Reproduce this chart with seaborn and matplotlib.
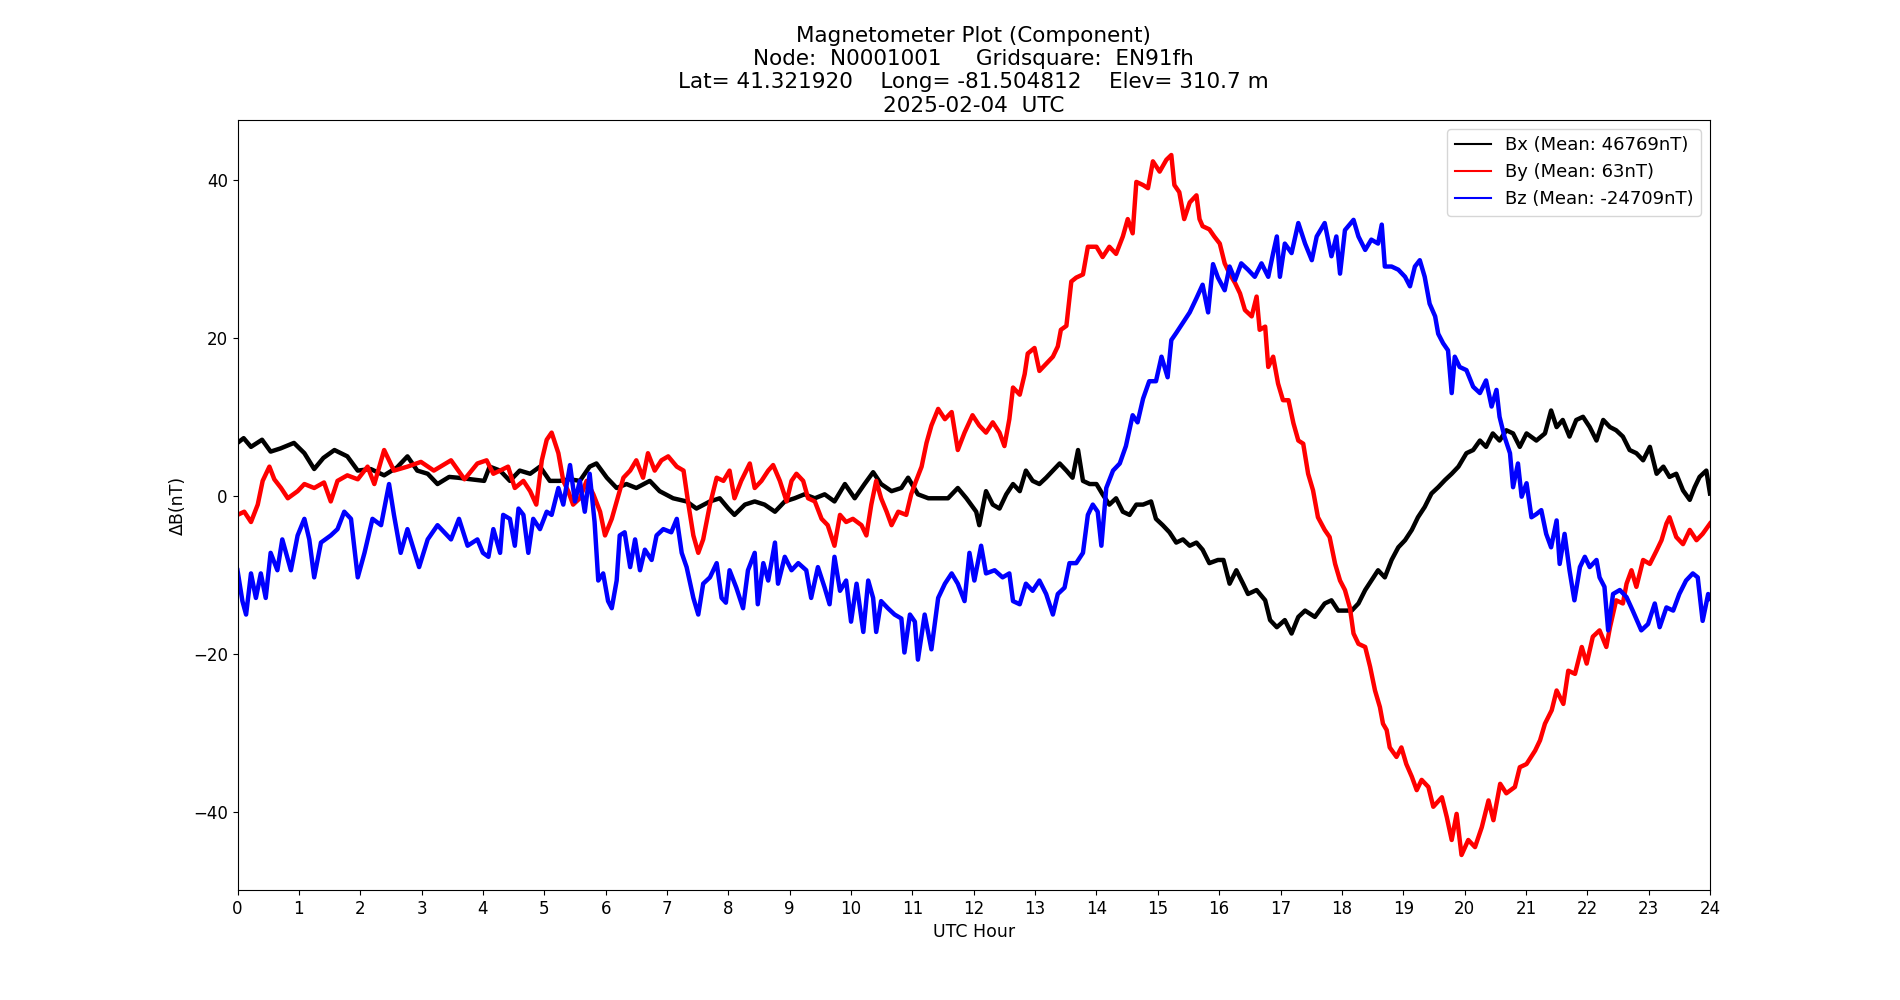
#!/usr/bin/env python3
"""Magnetometer component plot (Bx, By, Bz deviations over one UTC day)."""

import matplotlib
matplotlib.use('Agg')
import matplotlib.pyplot as plt
import seaborn as sns

# --- values (hour, nT deviation from mean) ---
bx_hours = [0.00, 0.10, 0.22, 0.40, 0.54, 0.70, 0.92, 1.09, 1.25, 1.40, 1.58, 1.79, 1.96, 2.17,
            2.39, 2.60, 2.77, 2.93, 3.10, 3.26, 3.45, 3.59, 3.80, 4.02, 4.11, 4.28, 4.44, 4.60,
            4.77, 4.93, 5.09, 5.25, 5.42, 5.58, 5.74, 5.85, 6.02, 6.18, 6.34, 6.50, 6.72, 6.88,
            7.10, 7.32, 7.48, 7.70, 7.86, 8.00, 8.10, 8.27, 8.43, 8.59, 8.76, 8.92, 9.08, 9.24,
            9.41, 9.57, 9.73, 9.90, 10.06, 10.22, 10.36, 10.49, 10.66, 10.82, 10.93, 11.09, 11.26,
            11.42, 11.58, 11.74, 11.88, 12.04, 12.09, 12.20, 12.31, 12.42, 12.53, 12.64, 12.75,
            12.85, 12.96, 13.07, 13.18, 13.29, 13.40, 13.51, 13.61, 13.70, 13.78, 13.89, 14.00,
            14.10, 14.21, 14.32, 14.43, 14.54, 14.65, 14.76, 14.89, 14.97, 15.08, 15.19, 15.30,
            15.41, 15.52, 15.63, 15.73, 15.84, 15.98, 16.07, 16.17, 16.28, 16.39, 16.47, 16.61,
            16.75, 16.83, 16.94, 17.07, 17.18, 17.29, 17.40, 17.56, 17.72, 17.83, 17.94, 18.05,
            18.16, 18.27, 18.38, 18.48, 18.59, 18.70, 18.81, 18.92, 19.03, 19.14, 19.24, 19.35,
            19.46, 19.57, 19.68, 19.79, 19.90, 20.03, 20.14, 20.25, 20.35, 20.46, 20.57, 20.68,
            20.79, 20.90, 21.01, 21.17, 21.31, 21.41, 21.50, 21.60, 21.71, 21.82, 21.93, 22.04,
            22.15, 22.26, 22.37, 22.47, 22.58, 22.69, 22.80, 22.91, 23.02, 23.13, 23.24, 23.34,
            23.45, 23.56, 23.67, 23.75, 23.83, 23.94, 24.00]
bx_values = [6.7, 7.3, 6.2, 7.1, 5.6, 6.0, 6.7, 5.4, 3.4, 4.8, 5.8, 5.0, 3.2, 3.4,
             2.6, 3.6, 5.0, 3.2, 2.8, 1.5, 2.4, 2.3, 2.1, 1.9, 3.7, 3.2, 1.9, 3.2,
             2.8, 3.7, 1.9, 1.9, 2.1, 1.9, 3.7, 4.1, 2.3, 1.0, 1.5, 1.0, 1.9, 0.6,
             -0.3, -0.7, -1.6, -0.7, -0.3, -1.6, -2.4, -1.1, -0.7, -1.1, -2.0, -0.7, -0.3, 0.2,
             -0.3, 0.2, -0.7, 1.5, -0.3, 1.5, 3.0, 1.5, 0.6, 1.0, 2.3, 0.2, -0.3,
             -0.3, -0.3, 1.0, -0.3, -2.0, -3.7, 0.6, -1.1, -1.6, 0.2, 1.5, 0.6,
             3.2, 1.9, 1.5, 2.3, 3.2, 4.1, 3.2, 2.3, 5.8, 1.9, 1.5, 1.5,
             0.2, -1.1, -0.3, -2.0, -2.4, -1.1, -1.1, -0.7, -2.9, -3.7, -4.6, -5.9,
             -5.5, -6.3, -5.9, -6.8, -8.5, -8.1, -8.1, -11.1, -9.4, -11.1, -12.4, -11.9,
             -13.2, -15.7, -16.6, -15.7, -17.4, -15.3, -14.5, -15.3, -13.6, -13.2, -14.5, -14.5,
             -14.5, -13.6, -11.9, -10.7, -9.4, -10.3, -8.1, -6.5, -5.6, -4.3, -2.7, -1.4,
             0.3, 1.1, 2.0, 2.8, 3.7, 5.4, 5.8, 7.0, 6.2, 7.9, 7.0, 8.3,
             7.9, 6.2, 7.9, 7.0, 7.9, 10.8, 8.7, 9.6, 7.5, 9.6, 10.0, 8.7,
             7.0, 9.6, 8.7, 8.3, 7.5, 5.8, 5.4, 4.5, 6.2, 2.8, 3.7, 2.4,
             2.8, 0.7, -0.5, 1.1, 2.4, 3.2, 0.3]

by_hours = [0.00, 0.11, 0.22, 0.33, 0.41, 0.52, 0.60, 0.71, 0.82, 0.98, 1.09, 1.25, 1.41, 1.52,
            1.63, 1.79, 1.96, 2.12, 2.23, 2.39, 2.55, 2.77, 2.99, 3.20, 3.48, 3.70, 3.91, 4.06,
            4.17, 4.28, 4.41, 4.52, 4.66, 4.77, 4.87, 4.96, 5.04, 5.12, 5.23, 5.31, 5.39, 5.47,
            5.58, 5.69, 5.80, 5.91, 5.99, 6.10, 6.18, 6.29, 6.40, 6.50, 6.61, 6.69, 6.80, 6.91,
            7.02, 7.16, 7.27, 7.35, 7.43, 7.51, 7.59, 7.70, 7.81, 7.92, 8.02, 8.10, 8.21, 8.35,
            8.43, 8.54, 8.65, 8.73, 8.84, 8.95, 9.03, 9.11, 9.22, 9.30, 9.41, 9.52, 9.62, 9.73,
            9.82, 9.92, 10.03, 10.17, 10.25, 10.33, 10.41, 10.49, 10.58, 10.66, 10.77, 10.90,
            10.98, 11.06, 11.15, 11.23, 11.31, 11.42, 11.53, 11.64, 11.74, 11.85, 11.98, 12.09,
            12.20, 12.31, 12.42, 12.50, 12.58, 12.64, 12.75, 12.83, 12.88, 12.99, 13.07, 13.18,
            13.29, 13.37, 13.42, 13.51, 13.59, 13.67, 13.78, 13.86, 14.00, 14.10, 14.21, 14.32,
            14.43, 14.51, 14.59, 14.65, 14.76, 14.84, 14.92, 15.03, 15.14, 15.22, 15.27, 15.35,
            15.43, 15.52, 15.63, 15.68, 15.73, 15.84, 15.92, 16.01, 16.09, 16.17, 16.26, 16.34,
            16.42, 16.53, 16.61, 16.66, 16.75, 16.80, 16.88, 16.96, 17.04, 17.13, 17.21, 17.29,
            17.37, 17.45, 17.53, 17.61, 17.72, 17.80, 17.89, 17.97, 18.05, 18.13, 18.19, 18.27,
            18.38, 18.46, 18.54, 18.62, 18.67, 18.73, 18.78, 18.89, 18.97, 19.05, 19.14, 19.22,
            19.30, 19.41, 19.49, 19.63, 19.71, 19.79, 19.87, 19.95, 20.06, 20.17, 20.28, 20.39,
            20.47, 20.58, 20.68, 20.82, 20.90, 21.01, 21.15, 21.23, 21.31, 21.42, 21.50, 21.61,
            21.69, 21.80, 21.91, 21.99, 22.09, 22.20, 22.31, 22.37, 22.47, 22.58, 22.64, 22.72,
            22.80, 22.91, 23.02, 23.13, 23.21, 23.29, 23.34, 23.45, 23.56, 23.67, 23.78, 23.88,
            24.00]
by_values = [-2.4, -2.0, -3.3, -1.1, 1.9, 3.7, 2.1, 1.0, -0.3, 0.6, 1.5, 1.0, 1.7, -0.7,
             1.9, 2.6, 2.1, 3.7, 1.5, 5.8, 3.2, 3.7, 4.3, 3.2, 4.5, 2.1, 4.1, 4.5,
             2.8, 3.2, 3.7, 1.0, 1.9, 0.6, -1.1, 4.5, 7.1, 8.0, 5.4, 1.9, 0.6, -1.1,
             -0.3, 1.9, 0.2, -2.0, -5.0, -2.9, -0.7, 2.3, 3.2, 4.5, 2.3, 5.4, 3.2, 4.5,
             5.0, 3.7, 3.2, -1.1, -5.0, -7.2, -5.5, -1.1, 2.3, 1.9, 3.2, -0.3, 1.9, 4.1,
             1.0, 1.9, 3.2, 3.9, 1.9, -0.7, 1.9, 2.8, 1.9, -0.3, -0.7, -2.9, -3.7, -6.3,
             -2.4, -3.3, -2.9, -3.7, -5.0, -1.1, 1.9, -0.3, -2.0, -3.7, -2.0, -2.4,
             0.2, 1.9, 3.7, 6.7, 8.9, 11.0, 9.7, 10.6, 5.8, 8.0, 10.2, 8.9,
             8.0, 9.3, 8.0, 6.3, 9.7, 13.7, 12.8, 15.4, 18.0, 18.7, 15.8, 16.7,
             17.6, 18.9, 21.0, 21.5, 27.1, 27.6, 28.0, 31.5, 31.5, 30.2, 31.5, 30.6,
             32.8, 35.0, 33.2, 39.7, 39.3, 38.9, 42.3, 41.0, 42.5, 43.1, 39.3, 38.4,
             35.0, 37.1, 38.0, 35.0, 34.1, 33.7, 32.8, 31.9, 29.4, 28.1, 26.9, 25.6,
             23.5, 22.7, 25.2, 21.0, 21.4, 16.3, 17.6, 14.2, 12.1, 12.1, 9.2, 7.0,
             6.6, 2.8, 0.7, -2.7, -4.3, -5.2, -8.6, -10.7, -11.9, -14.1, -17.4, -18.7,
             -19.1, -21.6, -24.6, -26.7, -28.8, -29.6, -31.8, -33.0, -31.8, -33.9, -35.5, -37.2,
             -35.9, -36.8, -39.3, -38.1, -40.6, -43.5, -40.2, -45.4, -43.5, -44.4, -41.9, -38.5,
             -41.0, -36.4, -37.6, -36.8, -34.3, -33.9, -32.2, -30.9, -28.8, -27.1, -24.6, -26.3,
             -22.1, -22.5, -19.1, -21.2, -17.8, -17.0, -19.1, -16.6, -13.2, -13.6, -11.1, -9.4,
             -11.5, -8.1, -8.6, -6.9, -5.6, -3.5, -2.7, -5.2, -6.1, -4.3, -5.6, -4.8,
             -3.5]

bz_hours = [0.00, 0.08, 0.14, 0.22, 0.30, 0.38, 0.46, 0.54, 0.65, 0.73, 0.87, 0.98, 1.09, 1.17,
            1.25, 1.36, 1.52, 1.63, 1.74, 1.85, 1.96, 2.07, 2.20, 2.34, 2.47, 2.55, 2.66, 2.77,
            2.96, 3.10, 3.26, 3.48, 3.61, 3.75, 3.91, 4.00, 4.09, 4.17, 4.28, 4.33, 4.44, 4.52,
            4.58, 4.66, 4.74, 4.82, 4.93, 5.04, 5.12, 5.23, 5.31, 5.42, 5.50, 5.58, 5.66, 5.74,
            5.82, 5.88, 5.96, 6.04, 6.10, 6.18, 6.23, 6.31, 6.40, 6.48, 6.56, 6.64, 6.75, 6.83,
            6.94, 7.07, 7.16, 7.24, 7.32, 7.43, 7.51, 7.59, 7.70, 7.81, 7.89, 7.96, 8.02, 8.13,
            8.24, 8.32, 8.43, 8.48, 8.57, 8.65, 8.76, 8.81, 8.92, 9.03, 9.14, 9.27, 9.35, 9.46,
            9.57, 9.65, 9.73, 9.82, 9.92, 10.00, 10.09, 10.20, 10.28, 10.36, 10.41, 10.49, 10.60,
            10.71, 10.82, 10.87, 10.96, 11.04, 11.09, 11.20, 11.31, 11.42, 11.53, 11.64, 11.74,
            11.85, 11.93, 12.01, 12.12, 12.20, 12.34, 12.47, 12.58, 12.64, 12.75, 12.85, 12.96,
            13.07, 13.18, 13.29, 13.37, 13.48, 13.56, 13.67, 13.78, 13.86, 13.94, 14.02, 14.08,
            14.16, 14.27, 14.38, 14.48, 14.59, 14.67, 14.76, 14.86, 14.97, 15.06, 15.16, 15.22,
            15.30, 15.41, 15.52, 15.63, 15.73, 15.82, 15.90, 15.98, 16.09, 16.17, 16.26, 16.36,
            16.47, 16.58, 16.69, 16.80, 16.88, 16.94, 16.99, 17.07, 17.18, 17.29, 17.40, 17.51,
            17.59, 17.72, 17.83, 17.91, 17.97, 18.05, 18.19, 18.27, 18.38, 18.48, 18.59, 18.65,
            18.70, 18.81, 18.92, 19.03, 19.11, 19.19, 19.27, 19.35, 19.43, 19.52, 19.57, 19.65,
            19.73, 19.79, 19.84, 19.92, 20.03, 20.14, 20.25, 20.35, 20.44, 20.52, 20.57, 20.65,
            20.74, 20.79, 20.87, 20.93, 21.01, 21.09, 21.17, 21.25, 21.33, 21.41, 21.50, 21.55,
            21.63, 21.71, 21.79, 21.88, 21.96, 22.04, 22.15, 22.20, 22.28, 22.34, 22.42, 22.53,
            22.64, 22.74, 22.88, 22.99, 23.10, 23.18, 23.29, 23.40, 23.50, 23.61, 23.72, 23.80,
            23.88, 23.97, 24.00]
bz_values = [-9.4, -13.3, -15.0, -9.8, -12.9, -9.8, -12.9, -7.2, -9.4, -5.5, -9.4, -5.0, -2.9, -5.5,
             -10.3, -5.9, -5.0, -4.2, -2.0, -2.9, -10.3, -7.2, -2.9, -3.7, 1.5, -2.4, -7.2, -4.2,
             -9.0, -5.5, -3.7, -5.5, -2.9, -6.3, -5.5, -7.2, -7.7, -4.2, -7.2, -2.4, -2.9, -6.3,
             -1.6, -2.4, -7.2, -2.9, -4.2, -2.0, -2.4, 1.0, -1.1, 3.9, -0.7, 1.9, -2.0, 2.8,
             -3.3, -10.7, -9.8, -13.3, -14.2, -10.7, -5.0, -4.6, -9.0, -5.5, -9.4, -6.8, -8.1, -5.0,
             -4.2, -4.6, -2.9, -7.2, -9.0, -12.9, -15.0, -11.1, -10.3, -8.5, -12.9, -13.5, -9.4, -11.6,
             -14.2, -9.4, -7.2, -13.7, -8.5, -10.7, -5.9, -11.1, -7.7, -9.4, -8.5, -9.4, -12.9, -9.0,
             -11.6, -13.7, -7.7, -12.0, -10.7, -15.9, -11.1, -17.2, -10.7, -12.9, -17.2, -13.3, -14.2,
             -15.0, -15.5, -19.8, -15.0, -15.9, -20.7, -15.0, -19.4, -12.9, -11.1, -9.8, -11.1,
             -13.3, -7.2, -10.7, -6.3, -9.8, -9.4, -10.3, -9.8, -13.3, -13.7, -11.1, -12.0,
             -10.7, -12.4, -15.0, -12.4, -11.6, -8.5, -8.5, -7.2, -2.4, -1.1, -2.0, -6.3,
             1.0, 3.2, 4.1, 6.3, 10.2, 9.3, 12.3, 14.5, 14.5, 17.6, 15.0, 19.7,
             20.6, 21.9, 23.2, 25.0, 26.7, 23.2, 29.3, 27.6, 26.0, 29.0, 27.3, 29.4,
             28.6, 27.7, 29.4, 27.7, 30.7, 32.8, 27.7, 31.9, 30.7, 34.5, 31.9, 29.8,
             32.8, 34.5, 30.3, 32.8, 28.1, 33.6, 34.9, 32.8, 31.1, 32.4, 31.9, 34.3,
             29.0, 29.0, 28.6, 27.7, 26.5, 29.0, 29.8, 27.7, 24.3, 22.7, 20.5, 19.3,
             18.4, 13.0, 17.6, 16.3, 15.9, 13.8, 13.0, 14.6, 11.3, 13.4, 10.0, 7.5,
             5.4, 1.1, 4.1, -0.1, 1.6, -2.7, -2.3, -1.8, -4.8, -6.5, -3.1, -8.6,
             -4.8, -9.4, -13.2, -9.0, -7.7, -9.0, -8.1, -10.3, -11.5, -17.0, -12.4, -11.9,
             -12.8, -14.5, -17.0, -16.2, -13.6, -16.6, -14.1, -14.5, -12.4, -10.7, -9.8, -10.3,
             -15.8, -12.4, -13.0]

series_names = ['Bx', 'By', 'Bz']
series_means = [46769, 63, -24709]
series_colors = ['black', 'red', 'blue']
hour_ticks = list(range(0, 25))

title_lines = [
    'Magnetometer Plot (Component)',
    'Node:  N0001001     Gridsquare:  EN91fh',
    'Lat= 41.321920    Long= -81.504812    Elev= 310.7 m',
    '2025-02-04  UTC',
]


def main():
    plt.rcParams['font.family'] = ['DejaVu Sans']
    plt.rcParams['font.size'] = 12

    fig, ax = plt.subplots(figsize=(19, 10), dpi=100)

    all_hours = [bx_hours, by_hours, bz_hours]
    all_values = [bx_values, by_values, bz_values]

    # thick strokes stand in for the dense noise band of the raw 1-s samples
    for name, mean, color, hrs, vals in zip(series_names, series_means, series_colors,
                                             all_hours, all_values):
        sns.lineplot(x=hrs, y=vals, ax=ax, color=color, linewidth=3.2,
                     estimator=None, sort=False,
                     label=f'{name} (Mean: {mean}nT)')

    ax.set_xlim(0, 24)
    ax.set_xticks(hour_ticks)
    ax.set_xlabel('UTC Hour', fontsize=12.5)
    ax.set_ylabel('\u0394B(nT)', fontsize=12.5)
    ax.set_title('\n'.join(title_lines), fontsize=15.5)

    leg = ax.legend(loc='upper right', fontsize=13)
    for line in leg.get_lines():
        line.set_linewidth(1.5)

    fig.savefig('out.png', dpi=100)


if __name__ == '__main__':
    main()
